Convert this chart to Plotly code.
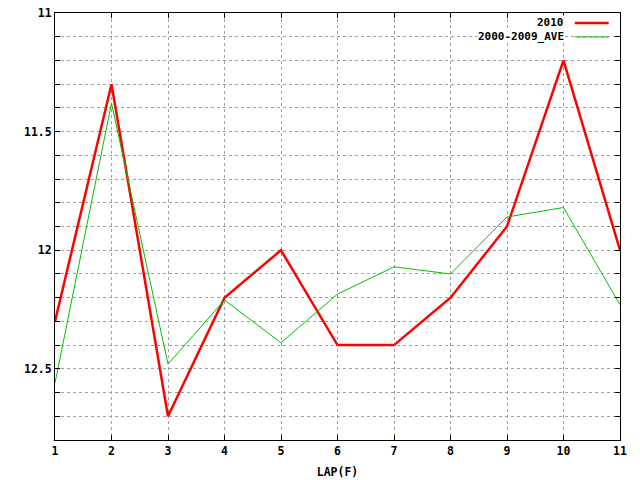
import plotly.graph_objects as go

laps = [1, 2, 3, 4, 5, 6, 7, 8, 9, 10, 11]
y2010 = [12.30, 11.30, 12.70, 12.20, 12.00, 12.40, 12.40, 12.20, 11.90, 11.20, 12.00]
yave = [12.56, 11.38, 12.48, 12.21, 12.39, 12.185, 12.07, 12.10, 11.86, 11.82, 12.23]
names = ["2010", "2000-2009_AVE"]
colors = ["#ff0000", "#00c000"]
widths = [2.5, 1]

ytickvals = [round(11 + 0.1 * i, 1) for i in range(19)]
yticktext = [("%g" % v) if abs(v * 2 - round(v * 2)) < 1e-9 else "" for v in ytickvals]

FONT = dict(family="DejaVu Sans Mono", size=11.5, color="black", weight="bold")
LEGFONT = dict(family="DejaVu Sans Mono", size=11, color="black", weight="bold")

fig = go.Figure()
for name, ys, c, w in zip(names, [y2010, yave], colors, widths):
    fig.add_trace(go.Scatter(x=laps, y=ys, mode="lines", name=name,
                             line=dict(color=c, width=w), showlegend=False))

# manual gnuplot-style legend: right-aligned text followed by line sample
legend_y = [0.9766, 0.9438]
for name, c, w, ly in zip(names, colors, widths, legend_y):
    fig.add_annotation(xref="paper", yref="paper", x=0.903, y=ly, text=name,
                       showarrow=False, xanchor="right", yanchor="middle",
                       font=LEGFONT, bgcolor="white", borderpad=0)
    fig.add_shape(type="line", xref="paper", yref="paper", x0=0.920, x1=0.980,
                  y0=ly, y1=ly, line=dict(color=c, width=w))

fig.update_layout(
    width=640, height=480,
    margin=dict(l=55, r=20, t=13, b=40),
    paper_bgcolor="white", plot_bgcolor="white",
    font=FONT,
    xaxis=dict(range=[1, 11], tickvals=laps, ticks="inside", ticklen=5,
               tickcolor="black", showline=True, linecolor="black", linewidth=1,
               mirror="ticks", showgrid=True, gridcolor="#a0a0a0",
               griddash="3px,3px", gridwidth=1, zeroline=False, automargin=False,
               title=dict(text="LAP(F)", font=FONT, standoff=11)),
    yaxis=dict(range=[12.8, 11], tickvals=ytickvals, ticktext=yticktext,
               ticks="inside", ticklen=5, tickcolor="black", showline=True,
               linecolor="black", linewidth=1, mirror="ticks", showgrid=True,
               gridcolor="#a0a0a0", griddash="3px,3px", gridwidth=1,
               zeroline=False, automargin=False),
)

fig.write_html("out.html", config={"displayModeBar": False},
               post_script="document.body.style.margin='0';document.body.style.padding='0';")
